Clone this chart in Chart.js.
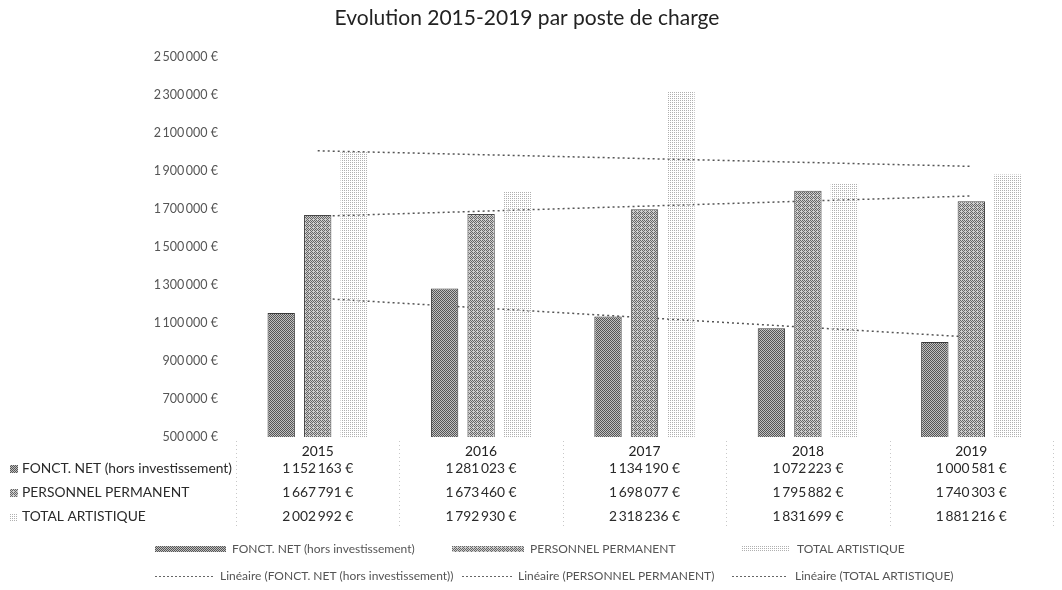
<!DOCTYPE html>
<html>
<head>
<meta charset="utf-8">
<script src="https://cdn.jsdelivr.net/npm/chart.js@4.4.1/dist/chart.umd.min.js"></script>
<style>
    html, body { margin: 0; padding: 0; background: #fff; }
    #wrap { width: 1062px; height: 590px; }
</style>
</head>
<body>
<div id="wrap"><canvas id="chart" width="1062" height="590"></canvas></div>
<script>
// valeurs par poste de charge
const years = ['2015', '2016', '2017', '2018', '2019'];
const fonctNet = [1152163, 1281023, 1134190, 1072223, 1000581];
const personnel = [1667791, 1673460, 1698077, 1795882, 1740303];
const totalArtistique = [2002992, 1792930, 2318236, 1831699, 1881216];
const seriesNames = ['FONCT. NET (hors investissement)', 'PERSONNEL PERMANENT', 'TOTAL ARTISTIQUE'];
const yTicks = [500000, 700000, 900000, 1100000, 1300000, 1500000, 1700000, 1900000, 2100000, 2300000, 2500000];

const FONT = 'Lato, "Open Sans", sans-serif';

function euro(v) {
    return String(v).replace(/\B(?=(\d{3})+(?!\d))/g, '\u2009') + ' €';
}

// droite des moindres carrés (x = 1..n), comme la courbe de tendance "Linéaire"
function linearFit(values) {
    const n = values.length;
    const xs = values.map((v, i) => i + 1);
    const mx = xs.reduce((a, b) => a + b, 0) / n;
    const my = values.reduce((a, b) => a + b, 0) / n;
    let num = 0, den = 0;
    xs.forEach((x, i) => { num += (x - mx) * (values[i] - my); den += (x - mx) * (x - mx); });
    const slope = num / den;
    return xs.map(x => my + slope * (x - mx));
}

// trame en points (dither 4x4)
function makePattern(ink, paper, level) {
    const bayer = [[0, 8, 2, 10], [12, 4, 14, 6], [3, 11, 1, 9], [15, 7, 13, 5]];
    const c = document.createElement('canvas');
    c.width = 4; c.height = 4;
    const g = c.getContext('2d');
    if (paper) { g.fillStyle = paper; g.fillRect(0, 0, 4, 4); }
    g.fillStyle = ink;
    for (let y = 0; y < 4; y++) {
        for (let x = 0; x < 4; x++) {
            if (bayer[y][x] < level) g.fillRect(x, y, 1, 1);
        }
    }
    return g.createPattern(c, 'repeat');
}

const fills = [
    makePattern('#555555', '#c0c0c0', 8),
    makePattern('#666666', '#cecece', 7),
    makePattern('#b0b0b0', null, 4)
];
const borders = ['#3a3a3a', '#484848', 'rgba(0,0,0,0)'];

const trendStyle = {
    type: 'line',
    borderColor: '#555',
    borderWidth: 1.5,
    borderDash: [2, 3],
    pointRadius: 0,
    fill: false,
    order: 2
};

// tableau de données + légende sous le graphique
const tablePlugin = {
    id: 'dataTable',
    afterDraw(chart) {
        const ctx = chart.ctx;
        const x = chart.scales.x;
        const area = chart.chartArea;
        const rows = [fonctNet, personnel, totalArtistique];
        const rowY = [469, 493, 517];

        ctx.save();

        // titre
        ctx.fillStyle = '#222';
        ctx.font = '21px ' + FONT;
        ctx.textAlign = 'center';
        ctx.textBaseline = 'middle';
        ctx.fillText('Evolution 2015-2019 par poste de charge', 527, 18);

        // bordures pointillées des colonnes
        ctx.strokeStyle = '#c8c8c8';
        ctx.lineWidth = 1;
        ctx.setLineDash([1, 3]);
        const step = (x.getPixelForValue(1) - x.getPixelForValue(0));
        for (let i = 0; i <= years.length; i++) {
            const px = Math.round(x.getPixelForValue(0) - step / 2 + i * step) + 0.5;
            ctx.beginPath();
            ctx.moveTo(px, area.bottom + 4);
            ctx.lineTo(px, 527);
            ctx.stroke();
        }
        ctx.setLineDash([]);

        // lignes du tableau
        ctx.font = '13.8px ' + FONT;
        ctx.textBaseline = 'middle';
        rows.forEach((vals, r) => {
            ctx.fillStyle = fills[r];
            ctx.fillRect(10, rowY[r] - 4, 8, 8);
            ctx.fillStyle = '#2a2a2a';
            ctx.textAlign = 'left';
            ctx.fillText(seriesNames[r], 22, rowY[r]);
            ctx.textAlign = 'center';
            vals.forEach((v, i) => {
                ctx.fillText(euro(v), x.getPixelForValue(i), rowY[r]);
            });
        });

        // légende
        ctx.font = '12px ' + FONT;
        ctx.textAlign = 'left';
        const barKeys = [[155, 226, 232], [452, 524, 530], [742, 790, 797]];
        barKeys.forEach((k, i) => {
            ctx.fillStyle = fills[i];
            ctx.fillRect(k[0], 546, k[1] - k[0], 6);
            ctx.fillStyle = '#555';
            ctx.fillText(seriesNames[i], k[2], 549);
        });
        const lineKeys = [[155, 214, 220], [462, 512, 518], [732, 788, 795]];
        ctx.strokeStyle = '#666';
        ctx.lineWidth = 1;
        ctx.setLineDash([2, 2]);
        lineKeys.forEach((k, i) => {
            ctx.beginPath();
            ctx.moveTo(k[0], 576.5);
            ctx.lineTo(k[1], 576.5);
            ctx.stroke();
            ctx.fillStyle = '#555';
            ctx.fillText('Linéaire (' + seriesNames[i] + ')', k[2], 576);
        });
        ctx.restore();
    }
};

const config = {
    data: {
        labels: years,
        datasets: [
            Object.assign({ label: 'Linéaire (' + seriesNames[0] + ')', data: linearFit(fonctNet) }, trendStyle),
            Object.assign({ label: 'Linéaire (' + seriesNames[1] + ')', data: linearFit(personnel) }, trendStyle),
            Object.assign({ label: 'Linéaire (' + seriesNames[2] + ')', data: linearFit(totalArtistique) }, trendStyle),
            { type: 'bar', label: seriesNames[0], data: fonctNet, backgroundColor: fills[0], borderColor: borders[0], borderWidth: 1, order: 1 },
            { type: 'bar', label: seriesNames[1], data: personnel, backgroundColor: fills[1], borderColor: borders[1], borderWidth: 1, order: 1 },
            { type: 'bar', label: seriesNames[2], data: totalArtistique, backgroundColor: fills[2], borderColor: borders[2], borderWidth: 0, order: 1 }
        ]
    },
    plugins: [tablePlugin],
    options: {
        responsive: false,
        animation: false,
        devicePixelRatio: 1,
        layout: { padding: { top: 57, right: 9, left: 0, bottom: 0 } },
        datasets: {
            bar: { categoryPercentage: 0.67, barPercentage: 0.75 }
        },
        scales: {
            x: {
                grid: { display: false },
                border: { display: false },
                ticks: { color: '#222', font: { family: FONT, size: 13.8 }, padding: -2 },
                afterFit(scale) { scale.height = 153; }
            },
            y: {
                min: 500000,
                max: 2500000,
                grid: { display: false, drawTicks: false },
                border: { display: false },
                afterBuildTicks(scale) { scale.ticks = yTicks.map(v => ({ value: v })); },
                ticks: {
                    color: '#555',
                    padding: 18,
                    font: { family: FONT, size: 12.5 },
                    callback: v => euro(v)
                },
                afterFit(scale) { scale.width = 236; }
            }
        },
        plugins: {
            legend: { display: false },
            tooltip: { enabled: false }
        }
    }
};

new Chart(document.getElementById('chart').getContext('2d'), config);
</script>
</body>
</html>
